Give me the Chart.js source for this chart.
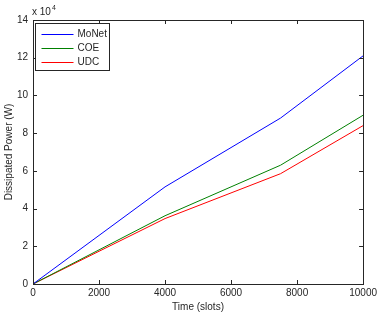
<!DOCTYPE html>
<html>
<head>
<meta charset="utf-8">
<script src="https://cdn.jsdelivr.net/npm/chart.js@4"></script>
<style>
  html, body { margin: 0; padding: 0; background: #fff; }
  #wrap { width: 380px; height: 314px; }
</style>
</head>
<body>
<div id="wrap"><canvas id="chart" width="380" height="314"></canvas></div>
<script>
// data (power in units of 1e4 W)
const timeSlots = [0, 4000, 7500, 10000];
const monetPower = [0, 5.15, 8.8, 12.1];
const coePower = [0, 3.62, 6.3, 8.95];
const udcPower = [0, 3.47, 5.85, 8.4];
const xTicks = [0, 2000, 4000, 6000, 8000, 10000];
const yTicks = [0, 2, 4, 6, 8, 10, 12, 14];

const FONT = '"Liberation Sans", Arial, sans-serif';

function toPoints(values) {
    return timeSlots.map((t, i) => ({ x: t, y: values[i] }));
}

// box, inward ticks on all four sides, legend and the exponent label
const matlabFrame = {
    id: 'matlabFrame',
    afterDraw(chart) {
        const ctx = chart.ctx;
        const area = chart.chartArea;
        const xs = chart.scales.x, ys = chart.scales.y;
        ctx.save();
        ctx.strokeStyle = '#262626';
        ctx.lineWidth = 1;
        ctx.beginPath();
        xTicks.forEach(v => {
            const px = Math.round(xs.getPixelForValue(v)) + 0.5;
            ctx.moveTo(px, area.bottom); ctx.lineTo(px, area.bottom - 4);
            ctx.moveTo(px, area.top); ctx.lineTo(px, area.top + 4);
        });
        yTicks.forEach(v => {
            const py = Math.round(ys.getPixelForValue(v)) + 0.5;
            ctx.moveTo(area.left, py); ctx.lineTo(area.left + 4, py);
            ctx.moveTo(area.right, py); ctx.lineTo(area.right - 4, py);
        });
        ctx.stroke();
        ctx.strokeRect(Math.round(area.left) + 0.5, Math.round(area.top) + 0.5,
            Math.round(area.right - area.left), Math.round(area.bottom - area.top));

        // exponent label
        ctx.fillStyle = '#262626';
        ctx.font = '10px ' + FONT;
        ctx.textBaseline = 'alphabetic';
        ctx.textAlign = 'left';
        ctx.fillText('x 10', area.left - 1, area.top - 5);
        ctx.font = '7px ' + FONT;
        ctx.fillText('4', area.left + 19, area.top - 10);

        // legend
        const lx = area.left + 2.5, ly = area.top + 3.5, lw = 74, lh = 47;
        ctx.fillStyle = '#fff';
        ctx.fillRect(lx, ly, lw, lh);
        ctx.strokeStyle = '#262626';
        ctx.strokeRect(lx, ly, lw, lh);
        ctx.font = '10px ' + FONT;
        ctx.textBaseline = 'middle';
        chart.data.datasets.forEach((ds, i) => {
            const y = Math.round(ly + 10 + i * 14) + 0.5;
            ctx.strokeStyle = ds.borderColor;
            ctx.beginPath();
            ctx.moveTo(lx + 6, y); ctx.lineTo(lx + 38, y);
            ctx.stroke();
            ctx.fillStyle = '#262626';
            ctx.fillText(ds.label, lx + 42, y);
        });
        ctx.restore();
    }
};

new Chart(document.getElementById('chart'), {
    type: 'line',
    data: {
        datasets: [
            { label: 'MoNet', data: toPoints(monetPower), borderColor: 'rgb(0,0,255)' },
            { label: 'COE', data: toPoints(coePower), borderColor: 'rgb(0,128,0)' },
            { label: 'UDC', data: toPoints(udcPower), borderColor: 'rgb(255,0,0)' }
        ]
    },
    options: {
        responsive: false,
        animation: false,
        events: [],
        layout: { padding: { top: 20, right: 14, left: 0, bottom: 0 } },
        elements: {
            line: { borderWidth: 1, tension: 0 },
            point: { radius: 0 }
        },
        plugins: { legend: { display: false }, tooltip: { enabled: false } },
        scales: {
            x: {
                type: 'linear',
                min: 0, max: 10000,
                afterBuildTicks: s => { s.ticks = xTicks.map(v => ({ value: v })); },
                afterFit: s => { s.height = 30; },
                grid: { display: false, drawTicks: false },
                border: { display: false },
                ticks: {
                    color: '#262626', font: { family: FONT, size: 10 }, padding: 3,
                    maxRotation: 0, autoSkip: false, callback: v => String(v)
                },
                title: { display: true, text: 'Time (slots)', color: '#262626', font: { family: FONT, size: 10 }, padding: { top: 0, bottom: 1 } }
            },
            y: {
                type: 'linear',
                min: 0, max: 14,
                afterBuildTicks: s => { s.ticks = yTicks.map(v => ({ value: v })); },
                afterFit: s => { s.width = 33; },
                grid: { display: false, drawTicks: false },
                border: { display: false },
                ticks: { color: '#262626', font: { family: FONT, size: 10 }, padding: 5, callback: v => String(v) },
                title: { display: true, text: 'Dissipated Power (W)', color: '#262626', font: { family: FONT, size: 10 }, padding: { top: 3, bottom: 0 } }
            }
        }
    },
    plugins: [matlabFrame]
});
</script>
</body>
</html>
